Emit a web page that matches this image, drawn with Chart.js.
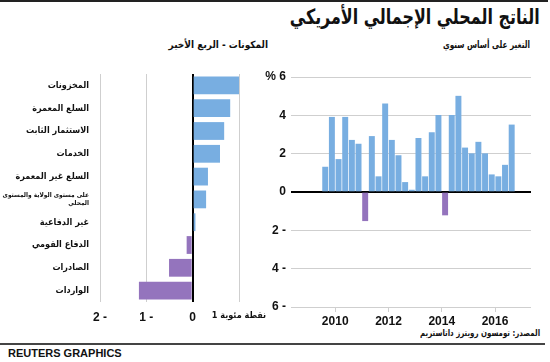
<!DOCTYPE html>
<html>
<head>
<meta charset="utf-8">
<script src="https://cdn.jsdelivr.net/npm/chart.js@4"></script>
<style>
  body { margin: 0; background: #fff; }
  #wrap { position: relative; width: 550px; height: 362px; overflow: hidden;
          font-family: "Liberation Sans", "DejaVu Sans", Arial, sans-serif; }
  .txt { position: absolute; direction: rtl; white-space: nowrap; font-weight: bold; color: #111;
         transform-origin: right center; }
  .ar { font-family: "DejaVu Sans Condensed", "DejaVu Sans", sans-serif; }
  .line { position: absolute; left: 0; background: #222; }
  canvas { position: absolute; }
</style>
</head>
<body>
<div id="wrap">
  <div class="line" style="top:0;width:548px;height:2px;"></div>
  <div class="txt ar fit" data-w="250" style="right:10px;top:5px;font-size:21px;">الناتج المحلي الإجمالي الأمريكي</div>
  <div class="txt ar fit" data-w="87" style="right:20px;top:39px;font-size:10px;">التغير على أساس سنوي</div>
  <div class="txt ar fit" data-w="118" style="right:282px;top:39px;font-size:10px;">المكونات - الربع الأخير</div>
  <div class="txt ar fit" data-w="120" style="right:10px;top:328px;font-size:9px;">المصدر: تومسون رويترز داتاستريم</div>
  <div class="line" style="top:343px;width:545px;height:2px;background:#444;"></div>
  <div class="txt" style="left:8px;top:347px;font-size:11px;direction:ltr;">REUTERS GRAPHICS</div>
  <canvas id="left" width="280" height="270" style="left:0;top:60px;"></canvas>
  <canvas id="right" width="300" height="270" style="left:250px;top:60px;"></canvas>
</div>
<script>
// --- données : composantes (dernier trimestre)
const components = ['المخزونات', 'السلع المعمرة', 'الاستثمار الثابت', 'الخدمات', 'السلع غير المعمرة',
  ['على مستوى الولاية والمستوى', 'المحلي'], 'غير الدفاعية', 'الدفاع القومي', 'الصادرات', 'الواردات'];
const contributions = [1.01, 0.81, 0.68, 0.59, 0.33, 0.29, 0.06, -0.13, -0.51, -1.16];
const contribTicks = { '-2': '2 -', '-1': '1 -', '0': '0', '1': '1 نقطة مئوية' };

// --- données : croissance trimestrielle annualisée
const quarters = ['2009Q3', '2009Q4', '2010Q1', '2010Q2', '2010Q3', '2010Q4', '2011Q1', '2011Q2', '2011Q3', '2011Q4',
  '2012Q1', '2012Q2', '2012Q3', '2012Q4', '2013Q1', '2013Q2', '2013Q3', '2013Q4', '2014Q1', '2014Q2', '2014Q3', '2014Q4',
  '2015Q1', '2015Q2', '2015Q3', '2015Q4', '2016Q1', '2016Q2', '2016Q3'];
const growth = [1.3, 3.9, 1.7, 3.9, 2.7, 2.5, -1.5, 2.9, 0.8, 4.6, 2.7, 1.9, 0.5, 0.1, 2.8, 0.8, 3.1, 4.0,
  -1.2, 4.0, 5.0, 2.3, 2.0, 2.6, 2.0, 0.9, 0.8, 1.4, 3.5];
const yearTicks = [2010, 2012, 2014, 2016];
const growthTicks = { '6': '% 6', '4': '4', '2': '2', '0': '0', '-2': '2 -', '-4': '4 -', '-6': '6 -' };

const BLUE = '#78aee1';
const PURPLE = '#9474bd';
const GRID = '#cfcfcf';
const FONT = '"Liberation Sans", "DejaVu Sans", Arial, sans-serif';
const AR_FONT = '"DejaVu Sans Condensed", "DejaVu Sans", sans-serif';

// largeur des textes html (mesurée au canvas)
const measure = document.createElement('canvas').getContext('2d');
document.querySelectorAll('.fit').forEach(el => {
  const cs = getComputedStyle(el);
  measure.font = cs.fontWeight + ' ' + cs.fontSize + ' ' + cs.fontFamily;
  const w = measure.measureText(el.textContent).width;
  el.style.transform = 'scaleX(' + Math.min(1, Number(el.dataset.w) / w) + ')';
});

Chart.defaults.font.family = FONT;
Chart.defaults.color = '#111';
Chart.defaults.animation = false;

const barColor = ctx => (ctx.raw && ctx.raw.y < 0) ? PURPLE : BLUE;

// --- graphique de gauche
new Chart(document.getElementById('left'), {
  type: 'bar',
  data: {
    labels: components,
    datasets: [{
      data: contributions,
      backgroundColor: ctx => contributions[ctx.dataIndex] < 0 ? PURPLE : BLUE,
      barPercentage: 0.78,
      categoryPercentage: 1
    }]
  },
  options: {
    indexAxis: 'y',
    responsive: false,
    layout: { padding: { top: 14, right: 41, left: 0, bottom: 0 } },
    plugins: { legend: { display: false }, tooltip: { enabled: false } },
    scales: {
      x: {
        min: -2, max: 1,
        offset: false,
        afterBuildTicks: axis => { axis.ticks = [-2, -1, 0, 1].map(v => ({ value: v })); },
        afterFit: axis => { axis.height = 28; },
        border: { display: false },
        grid: {
          drawTicks: false,
          color: ctx => ctx.tick && ctx.tick.value === 0 ? '#000' : GRID,
          lineWidth: ctx => ctx.tick && ctx.tick.value === 0 ? 2 : 1
        },
        ticks: {
          padding: 8,
          autoSkip: false,
          maxRotation: 0,
          minRotation: 0,
          font: ctx => ctx.tick && ctx.tick.value === 1
            ? { size: 9, weight: 'bold', family: AR_FONT }
            : { size: 12, weight: 'bold' },
          callback: v => contribTicks[String(v)]
        }
      },
      y: {
        afterFit: axis => { axis.width = 100; },
        border: { display: false },
        grid: { display: false },
        ticks: {
          padding: 3,
          autoSkip: false,
          font: ctx => ctx.index === 5
            ? { size: 6.5, weight: 'bold', lineHeight: 1.3, family: AR_FONT }
            : { size: 9, weight: 'bold', family: AR_FONT }
        }
      }
    }
  }
});

// --- graphique de droite
const toYear = q => Number(q.slice(0, 4)) + (Number(q.slice(5)) - 1) * 0.25 + 0.125;

new Chart(document.getElementById('right'), {
  type: 'bar',
  data: {
    datasets: [{
      data: quarters.map((q, i) => ({ x: toYear(q), y: growth[i] })),
      backgroundColor: barColor,
      barThickness: 5.3
    }]
  },
  options: {
    responsive: false,
    layout: { padding: { top: 17, right: 19, left: 0, bottom: 0 } },
    plugins: { legend: { display: false }, tooltip: { enabled: false } },
    scales: {
      x: {
        type: 'linear',
        min: 2008.34, max: 2017.35,
        offset: false,
        afterBuildTicks: axis => { axis.ticks = yearTicks.map(v => ({ value: v })); },
        afterFit: axis => { axis.height = 23; },
        border: { display: false },
        grid: { drawOnChartArea: false, tickLength: 5, color: GRID, offset: false },
        ticks: { padding: 2, maxRotation: 0, font: { size: 12, weight: 'bold' }, callback: v => String(v) }
      },
      y: {
        min: -6, max: 6,
        afterBuildTicks: axis => { axis.ticks = [6, 4, 2, 0, -2, -4, -6].map(v => ({ value: v })); },
        afterFit: axis => { axis.width = 41; },
        border: { display: false },
        grid: {
          drawTicks: false,
          color: ctx => ctx.tick && ctx.tick.value === 0 ? '#000' : GRID,
          lineWidth: ctx => ctx.tick && ctx.tick.value === 0 ? 2 : 1
        },
        ticks: { padding: 5, font: { size: 12, weight: 'bold' }, callback: v => growthTicks[String(v)] }
      }
    }
  }
});
</script>
</body>
</html>
